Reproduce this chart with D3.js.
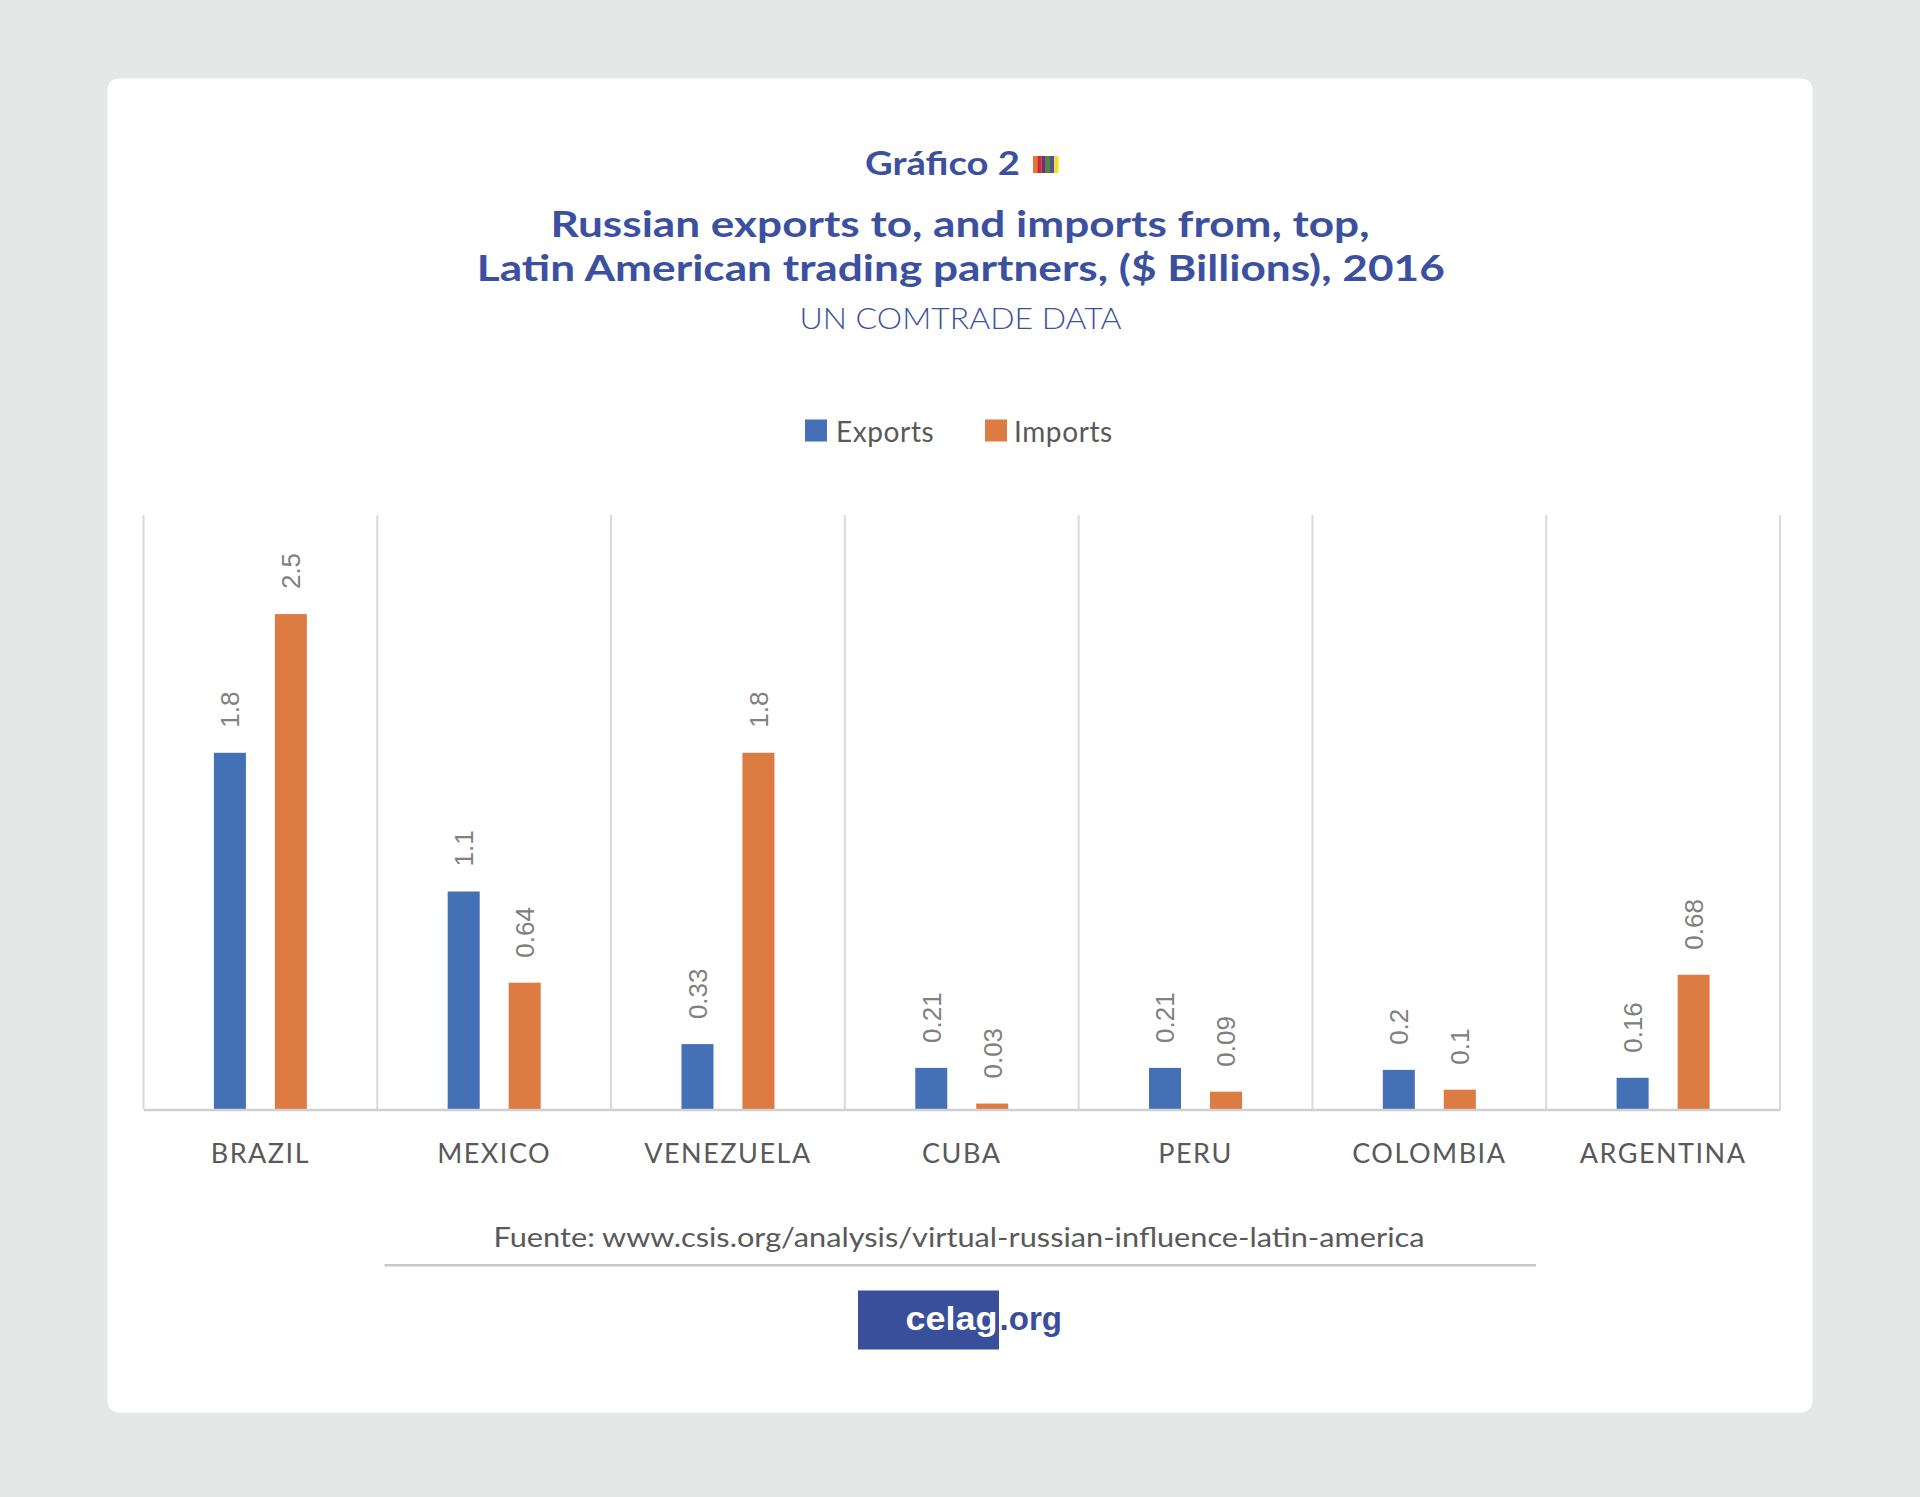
<!DOCTYPE html>
<html>
<head>
<meta charset="utf-8">
<script src="https://cdn.jsdelivr.net/npm/d3@7"></script>
<style>
  body { margin: 0; background: #e6e8e7; }
  svg { display: block; }
</style>
</head>
<body>
<div class="canvas"></div>
<script>
// data ($ billions, 2016)
const countries = ['BRAZIL', 'MEXICO', 'VENEZUELA', 'CUBA', 'PERU', 'COLOMBIA', 'ARGENTINA'];
const exportsB = [1.8, 1.1, 0.33, 0.21, 0.21, 0.2, 0.16];
const importsB = [2.5, 0.64, 1.8, 0.03, 0.09, 0.1, 0.68];
const seriesNames = ['Exports', 'Imports'];
const seriesColors = ['#4470b5', '#dc7b42'];
const yMax = 3;

const W = 1920, H = 1497;
const blue = '#3b519f';
const grey = '#595959';

const svg = d3.select('.canvas').append('svg')
    .attr('width', W)
    .attr('height', H)

svg.append('rect')
    .attr('width', W).attr('height', H)
    .attr('fill', '#e6e8e7')

// white card
svg.append('rect')
    .attr('x', 107.5).attr('y', 78.5)
    .attr('width', 1705).attr('height', 1334)
    .attr('rx', 11)
    .attr('fill', '#ffffff')

const stretch = (sel, w) => sel.attr('textLength', w).attr('lengthAdjust', 'spacingAndGlyphs')

// header
svg.append('text')
    .attr('x', 865).attr('y', 175)
    .attr('font-family', 'Lato, sans-serif')
    .attr('font-weight', 700)
    .attr('font-size', 32)
    .attr('fill', blue)
    .text('Gráfico 2')
    .call(stretch, 155)

const flagColors = ['#e2782e', '#cf2a2e', '#6b3374', '#4d8b3b', '#5b4b9e', '#f2e41a'];
svg.append('g')
    .attr('transform', 'translate(1033, 156)')
    .selectAll('rect')
    .data(flagColors)
    .enter()
    .append('rect')
    .attr('x', (d, i) => i * 4.25)
    .attr('width', 4.3)
    .attr('height', 17)
    .attr('fill', d => d)

const titleLines = [
    { text: 'Russian exports to, and imports from, top,', x: 960, y: 236.7, w: 819 },
    { text: 'Latin American trading partners, ($ Billions), 2016', x: 960.8, y: 281, w: 968 }
];
svg.selectAll('.title')
    .data(titleLines)
    .enter()
    .append('text')
    .attr('class', 'title')
    .attr('x', d => d.x).attr('y', d => d.y)
    .attr('text-anchor', 'middle')
    .attr('font-family', 'Lato, sans-serif')
    .attr('font-weight', 700)
    .attr('font-size', 37)
    .attr('fill', blue)
    .attr('textLength', d => d.w)
    .attr('lengthAdjust', 'spacingAndGlyphs')
    .text(d => d.text)

svg.append('text')
    .attr('x', 960.5).attr('y', 329)
    .attr('text-anchor', 'middle')
    .attr('font-family', 'Lato, sans-serif')
    .attr('font-weight', 300)
    .attr('font-size', 29)
    .attr('fill', blue)
    .text('UN COMTRADE DATA')
    .call(stretch, 322)

// legend
const legend = svg.append('g')
    .attr('transform', 'translate(805, 419.5)')
const item = legend.selectAll('g')
    .data(seriesNames)
    .enter()
    .append('g')
    .attr('transform', (d, i) => `translate(${i * 180}, 0)`)
item.append('rect')
    .attr('width', 22).attr('height', 22)
    .attr('fill', (d, i) => seriesColors[i])
item.append('text')
    .attr('x', (d, i) => i ? 29 : 31)
    .attr('y', 22)
    .attr('font-family', 'Lato, sans-serif')
    .attr('font-size', 28)
    .attr('letter-spacing', 0.6)
    .attr('fill', grey)
    .text(d => d)

// plot
const plot = { left: 143.5, right: 1780, top: 515, bottom: 1109.5 };

const x = d3.scaleBand()
    .domain(countries)
    .range([plot.left, plot.right])
    .padding(0)

const bw = x.bandwidth();
const x1 = d3.scaleBand()
    .domain(seriesNames)
    .range([bw / 2 - 46.5, bw / 2 + 46.5])
    .paddingInner(0.475)

const y = d3.scaleLinear()
    .domain([0, yMax])
    .range([plot.bottom, plot.top])

// vertical separators
const seps = countries.map(c => x(c)).concat([plot.right]);
svg.append('g')
    .selectAll('line')
    .data(seps)
    .enter()
    .append('line')
    .attr('x1', d => d).attr('x2', d => d)
    .attr('y1', y(yMax)).attr('y2', y(0))
    .attr('stroke', '#dadada')
    .attr('stroke-width', 2)

const rows = countries.map((c, i) => ({
    country: c,
    values: [exportsB[i], importsB[i]].map((v, j) => ({ key: seriesNames[j], value: v, color: seriesColors[j] }))
}));

const groups = svg.append('g')
    .selectAll('g')
    .data(rows)
    .enter()
    .append('g')
    .attr('transform', d => `translate(${x(d.country)}, 0)`)

groups.selectAll('rect')
    .data(d => d.values)
    .enter()
    .append('rect')
    .attr('x', d => x1(d.key))
    .attr('y', d => y(d.value))
    .attr('width', x1.bandwidth())
    .attr('height', d => y(0) - y(d.value))
    .attr('fill', d => d.color)

groups.selectAll('text')
    .data(d => d.values)
    .enter()
    .append('text')
    .attr('transform', d => `translate(${x1(d.key) + x1.bandwidth() / 2}, ${y(d.value) - 25}) rotate(-90)`)
    .attr('dy', '0.36em')
    .attr('font-family', '"Liberation Sans", Arial, sans-serif')
    .attr('font-size', 26)
    .attr('fill', '#808080')
    .text(d => String(d.value))

// category axis
const xAxisGroup = svg.append('g')
    .attr('transform', `translate(0, ${plot.bottom})`)
    .call(d3.axisBottom(x).tickSize(0).tickSizeOuter(0).tickPadding(34))

xAxisGroup.select('.domain')
    .attr('stroke', '#d0d0d0')
    .attr('stroke-width', 2.5)

xAxisGroup.selectAll('text')
    .attr('font-family', 'Lato, sans-serif')
    .attr('font-size', 27)
    .attr('letter-spacing', 1.5)
    .attr('fill', grey)

// footer
svg.append('text')
    .attr('x', 959).attr('y', 1246.7)
    .attr('text-anchor', 'middle')
    .attr('font-family', 'Lato, sans-serif')
    .attr('font-size', 27)
    .attr('fill', grey)
    .text('Fuente: www.csis.org/analysis/virtual-russian-influence-latin-america')
    .call(stretch, 931)

svg.append('line')
    .attr('x1', 384.5).attr('x2', 1536)
    .attr('y1', 1265.3).attr('y2', 1265.3)
    .attr('stroke', '#c8c8c8')
    .attr('stroke-width', 2.5)

svg.append('rect')
    .attr('x', 858).attr('y', 1290.5)
    .attr('width', 141).attr('height', 59)
    .attr('fill', '#3a4f9c')

svg.append('text')
    .attr('x', 905.6).attr('y', 1330)
    .attr('font-family', '"Liberation Sans", Arial, sans-serif')
    .attr('font-weight', 700)
    .attr('font-size', 33)
    .attr('fill', '#ffffff')
    .text('celag')
    .call(stretch, 92)

svg.append('text')
    .attr('x', 999.5).attr('y', 1330)
    .attr('font-family', '"Liberation Sans", Arial, sans-serif')
    .attr('font-weight', 700)
    .attr('font-size', 33)
    .attr('fill', '#3a4f9c')
    .text('.org')
    .call(stretch, 62.5)
</script>
</body>
</html>
